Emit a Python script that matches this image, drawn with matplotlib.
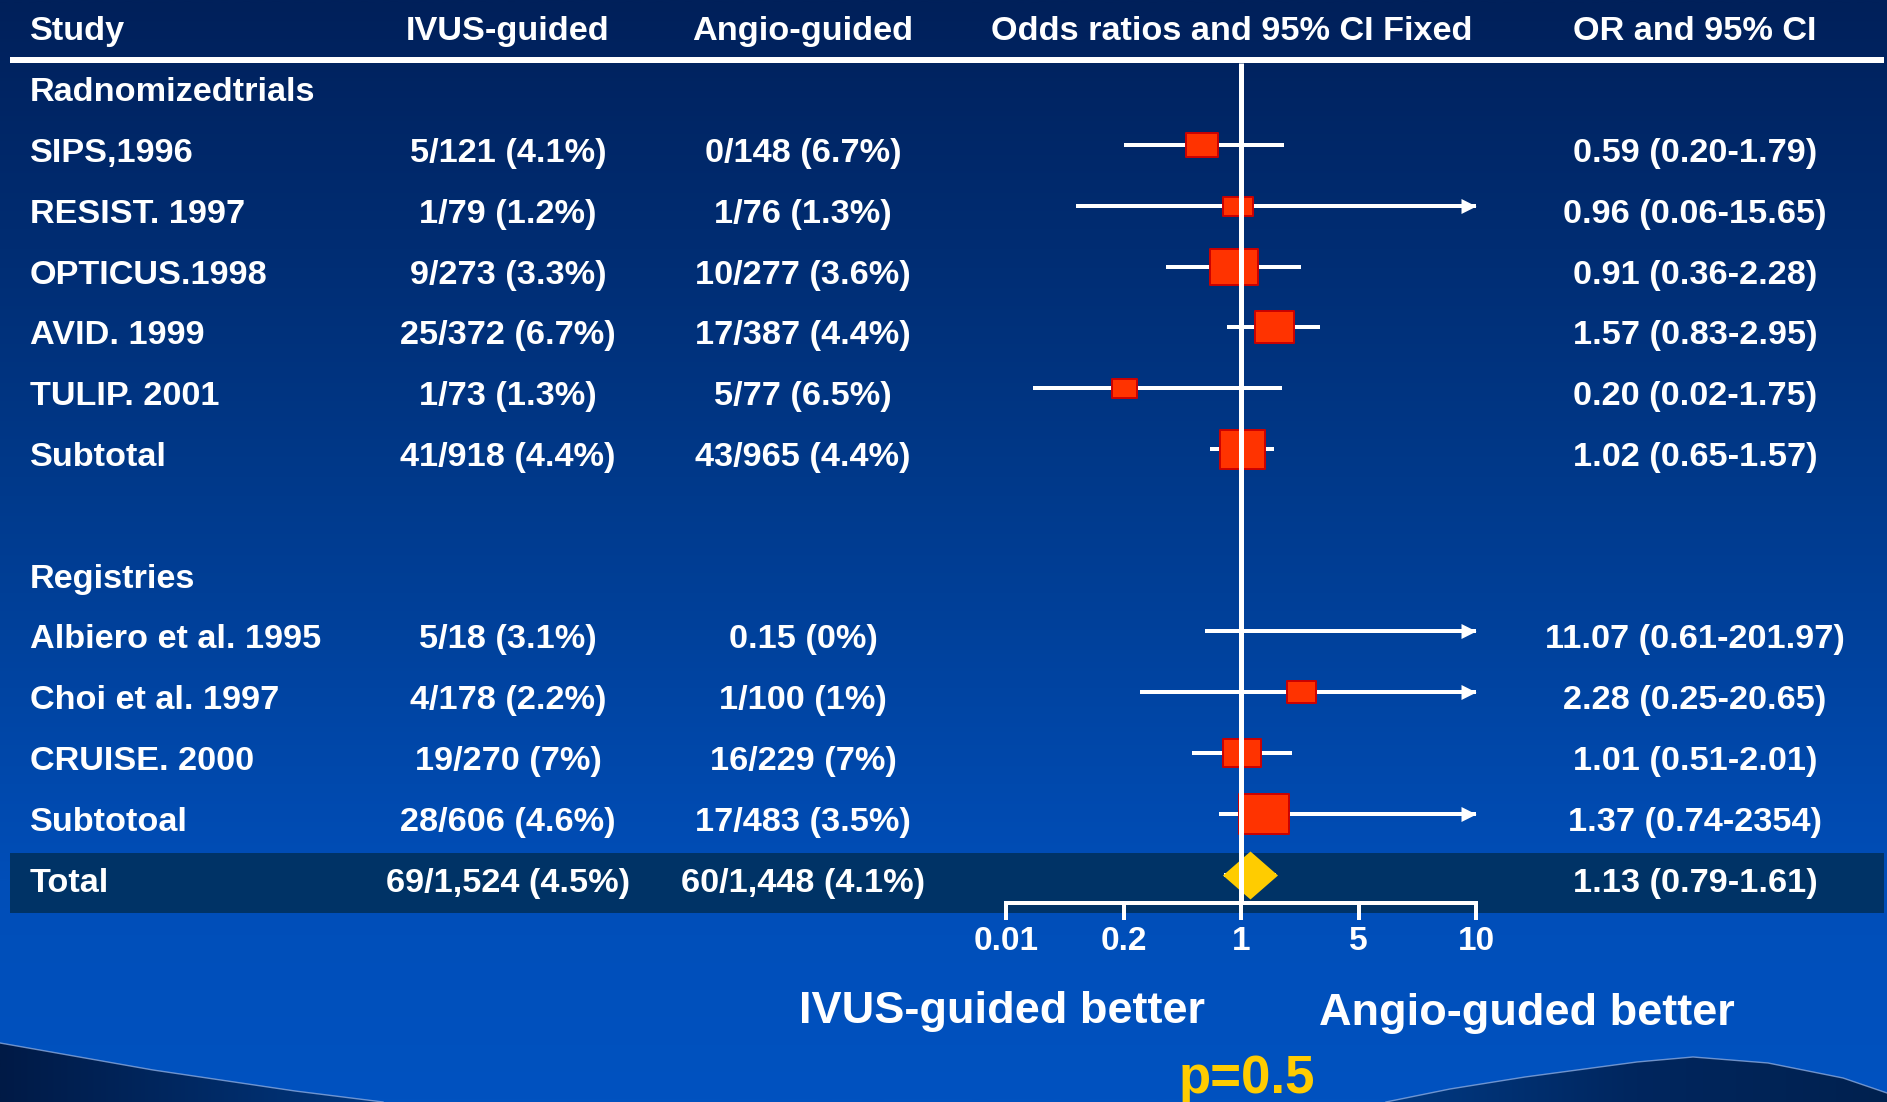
import numpy as np
import matplotlib
matplotlib.use("Agg")
import matplotlib.pyplot as plt
from matplotlib.path import Path
from matplotlib.patches import Polygon, Rectangle
from matplotlib.colors import LinearSegmentedColormap
from matplotlib.ticker import NullLocator

# ---------------------------------------------------------------- data
studies = ["SIPS,1996", "RESIST. 1997", "OPTICUS.1998", "AVID. 1999",
           "TULIP. 2001", "Subtotal",
           "Albiero et al. 1995", "Choi et al. 1997", "CRUISE. 2000",
           "Subtotoal", "Total"]
ivus_events = ["5/121 (4.1%)", "1/79 (1.2%)", "9/273 (3.3%)", "25/372 (6.7%)",
               "1/73 (1.3%)", "41/918 (4.4%)",
               "5/18 (3.1%)", "4/178 (2.2%)", "19/270 (7%)", "28/606 (4.6%)",
               "69/1,524 (4.5%)"]
angio_events = ["0/148 (6.7%)", "1/76 (1.3%)", "10/277 (3.6%)", "17/387 (4.4%)",
                "5/77 (6.5%)", "43/965 (4.4%)",
                "0.15 (0%)", "1/100 (1%)", "16/229 (7%)", "17/483 (3.5%)",
                "60/1,448 (4.1%)"]
odds_ratio = [0.59, 0.96, 0.91, 1.57, 0.20, 1.02, 11.07, 2.28, 1.01, 1.37, 1.13]
ci_low = [0.20, 0.06, 0.36, 0.83, 0.02, 0.65, 0.61, 0.25, 0.51, 0.74, 0.79]
ci_high = [1.79, 15.65, 2.28, 2.95, 1.75, 1.57, 201.97, 20.65, 2.01, 2354, 1.61]
or_text = ["0.59 (0.20-1.79)", "0.96 (0.06-15.65)", "0.91 (0.36-2.28)",
           "1.57 (0.83-2.95)", "0.20 (0.02-1.75)", "1.02 (0.65-1.57)",
           "11.07 (0.61-201.97)", "2.28 (0.25-20.65)", "1.01 (0.51-2.01)",
           "1.37 (0.74-2354)", "1.13 (0.79-1.61)"]
group_titles = ["Radnomizedtrials", "Registries"]
axis_ticks = [0.01, 0.2, 1, 5, 10]
axis_tick_labels = ["0.01", "0.2", "1", "5", "10"]
headers = ["Study", "IVUS-guided", "Angio-guided",
           "Odds ratios and 95% CI Fixed", "OR and 95% CI"]

# ---------------------------------------------------------------- layout / style
W, H, DPI = 1887, 1102, 100
ROW0, ROW_STEP = 145, 60.8
row_slot = [0, 1, 2, 3, 4, 5, 8, 9, 10, 11, 12]
group_slot = [-1, 7]
is_total = [False] * 10 + [True]
box_px = [(32, 24), (30, 19), (49, 37), (39, 32), (25, 19), (45, 39),
          (0, 0), (29, 22), (38, 28), (50, 40), (55, 48)]
X_STUDY, X_IVUS, X_ANGIO, X_FOREST, X_OR = 30, 508, 803, 1232, 1695
AX_LEFT, AX_RIGHT, AX_Y = 1006, 1476, 903
FONT = ["Liberation Sans", "DejaVu Sans"]
TABLE_SIZE = 24.7
WHITE = "white"
BOX_FACE, BOX_EDGE = "#FF3300", "#CC0000"
GOLD = "#FFCC00"


def row_y(slot):
    return ROW0 + ROW_STEP * slot


def px2pt(p):
    return p * 72.0 / DPI


# equally spaced ticks on a piecewise-logarithmic axis
LOG_T = np.log10(np.array(axis_ticks, dtype=float))
IDX = np.arange(len(axis_ticks), dtype=float)


def _interp_ext(x, xp, fp):
    x = np.asarray(x, dtype=float)
    y = np.interp(x, xp, fp)
    lo_s = (fp[1] - fp[0]) / (xp[1] - xp[0])
    hi_s = (fp[-1] - fp[-2]) / (xp[-1] - xp[-2])
    y = np.where(x < xp[0], fp[0] + (x - xp[0]) * lo_s, y)
    y = np.where(x > xp[-1], fp[-1] + (x - xp[-1]) * hi_s, y)
    return y


def fwd(v):
    v = np.clip(np.asarray(v, dtype=float), 1e-12, None)
    return _interp_ext(np.log10(v), LOG_T, IDX)


def inv(u):
    return 10.0 ** _interp_ext(u, IDX, LOG_T)


fig = plt.figure(figsize=(W / DPI, H / DPI), dpi=DPI)

# ---------------------------------------------------------------- background
bg = fig.add_axes([0, 0, 1, 1])
bg_cmap = LinearSegmentedColormap.from_list(
    "bg", [(0.0, "#00205A"), (0.45, "#003A8C"), (0.8, "#004EB8"), (1.0, "#0052C0")])
bg.imshow(np.linspace(0, 1, 512)[:, None], cmap=bg_cmap, aspect="auto",
          extent=[0, W, H, 0], zorder=0, interpolation="bilinear")

# lower decorative swooshes
left_pts = [(0, 1043), (153, 1070), (295, 1091), (383, 1102), (0, 1102)]
right_pts = [(1386, 1102), (1450, 1089), (1525, 1077), (1637, 1062), (1693, 1057),
             (1768, 1063), (1843, 1078), (1887, 1093), (1887, 1102)]
for pts, cols in ((left_pts, ["#001A46", "#00377F"]),
                  (right_pts, ["#003A84", "#00265E", "#00214F"])):
    poly = Polygon(pts, closed=True, facecolor="none", edgecolor="none")
    bg.add_patch(poly)
    cm = LinearSegmentedColormap.from_list("sw", cols)
    xs = [p[0] for p in pts]
    im = bg.imshow(np.linspace(0, 1, 256)[None, :], cmap=cm, aspect="auto",
                   extent=[min(xs), max(xs), H, 1040], zorder=1,
                   interpolation="bilinear")
    im.set_clip_path(poly)
    edge = np.array(pts[:-1])
    bg.plot(edge[:, 0], edge[:, 1], color="#9DB8E8", lw=1.0, alpha=0.7, zorder=2)

# header rule and total row band
bg.add_patch(Rectangle((10, 57), W - 13, 6, facecolor=WHITE, edgecolor="none", zorder=3))
bg.add_patch(Rectangle((10, 853), W - 13, 60, facecolor="#003366",
                       edgecolor="none", zorder=3))

bg.set_xlim(0, W)
bg.set_ylim(H, 0)
bg.axis("off")

txt = dict(color=WHITE, fontsize=TABLE_SIZE, fontweight="bold", family=FONT,
           va="baseline", zorder=5)

# column headers
bg.text(X_STUDY, 40, headers[0], ha="left", **txt)
for x, h in zip([X_IVUS, X_ANGIO, X_FOREST, X_OR], headers[1:]):
    bg.text(x, 40, h, ha="center", **txt)

# group titles
for s, g in zip(group_slot, group_titles):
    bg.text(X_STUDY, row_y(s) + 17, g, ha="left", **txt)

# table rows
for i, name in enumerate(studies):
    yb = row_y(row_slot[i]) + 17
    bg.text(X_STUDY, yb, name, ha="left", **txt)
    bg.text(X_IVUS, yb, ivus_events[i], ha="center", **txt)
    bg.text(X_ANGIO, yb, angio_events[i], ha="center", **txt)
    bg.text(X_OR, yb, or_text[i], ha="center", **txt)

# footer captions
bg.text(1002, 1023, "IVUS-guided better", ha="center", va="baseline",
        color=WHITE, fontsize=32.5, fontweight="bold", family=FONT, zorder=5)
bg.text(1527, 1025, "Angio-guded better", ha="center", va="baseline",
        color=WHITE, fontsize=32.5, fontweight="bold", family=FONT, zorder=5)
bg.text(1247, 1093, "p=0.5", ha="center", va="baseline",
        color=GOLD, fontsize=38, fontweight="bold", family=FONT, zorder=5)

# ---------------------------------------------------------------- forest axes
ax = fig.add_axes([AX_LEFT / W, 0, (AX_RIGHT - AX_LEFT) / W, 1])
ax.patch.set_alpha(0)
ax.set_xscale("function", functions=(fwd, inv))
ax.set_xlim(axis_ticks[0], axis_ticks[-1])
ax.set_ylim(H, 0)
ax.set_xticks(axis_ticks, labels=axis_tick_labels)
ax.xaxis.set_minor_locator(NullLocator())
ax.set_yticks([])
for side in ("left", "right", "top"):
    ax.spines[side].set_visible(False)
ax.spines["bottom"].set_position(("data", AX_Y))
ax.spines["bottom"].set_color(WHITE)
ax.spines["bottom"].set_linewidth(px2pt(4))
ax.tick_params(axis="x", direction="out", length=px2pt(17), width=px2pt(4),
               color=WHITE, pad=px2pt(6), labelcolor=WHITE, labelsize=24)
for lab in ax.get_xticklabels():
    lab.set_fontweight("bold")
    lab.set_family(FONT)

x_min, x_max = axis_ticks[0], axis_ticks[-1]

# line of no effect
ax.vlines(1, 63, AX_Y, color=WHITE, lw=px2pt(5), zorder=6)

rect_marker = Path([(-0.5, -0.5), (0.5, -0.5), (0.5, 0.5), (-0.5, 0.5), (-0.5, -0.5)],
                   closed=True)
diamond_marker = Path([(-1, 0), (0, 1), (1, 0), (0, -1), (-1, 0)], closed=True)
arrow_right = Path([(0, 0), (-1, 0.5), (-1, -0.5), (0, 0)], closed=True)
arrow_left = Path([(0, 0), (1, 0.5), (1, -0.5), (0, 0)], closed=True)

for i in range(len(studies)):
    y = row_y(row_slot[i])
    lo = max(ci_low[i], x_min)
    hi = min(ci_high[i], x_max)
    ax.plot([lo, hi], [y, y], color=WHITE, lw=px2pt(4),
            solid_capstyle="butt", zorder=3, clip_on=False)
    if ci_high[i] > x_max:
        ax.plot([hi], [y], marker=arrow_right, ms=px2pt(30), color=WHITE,
                mec="none", zorder=3, clip_on=False)
    if ci_low[i] < x_min:
        ax.plot([lo], [y], marker=arrow_left, ms=px2pt(30), color=WHITE,
                mec="none", zorder=3, clip_on=False)

    if not (x_min <= odds_ratio[i] <= x_max):
        continue
    bw, bh = box_px[i]
    if is_total[i]:
        verts = diamond_marker.vertices * np.array([bw / 2, bh / 2])
        ax.plot([odds_ratio[i]], [y], marker=Path(verts, closed=True),
                ms=px2pt(max(bw, bh)), mfc=GOLD, mec="none", zorder=4,
                clip_on=False)
    else:
        verts = rect_marker.vertices * np.array([bw, bh])
        ax.plot([odds_ratio[i]], [y], marker=Path(verts, closed=True),
                ms=px2pt(max(bw, bh)), mfc=BOX_FACE, mec=BOX_EDGE,
                mew=1.4, zorder=4, clip_on=False)

fig.savefig("out.png", dpi=DPI)
